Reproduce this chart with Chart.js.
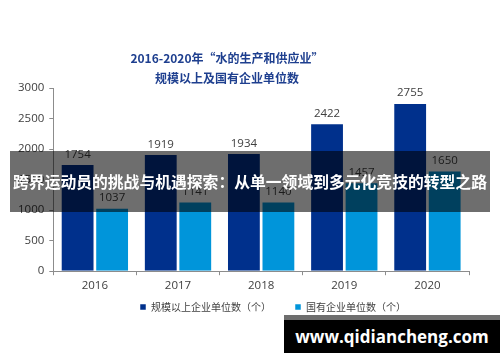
<!DOCTYPE html>
<html lang="zh">
<head>
    <meta charset="UTF-8">
    <title>2016-2020年 水的生产和供应业 企业单位数</title>
    <script src="https://cdn.jsdelivr.net/npm/chart.js"></script>
    <style>
        * { margin: 0; padding: 0; box-sizing: border-box; }
        body { width: 500px; height: 362px; background: #fff; overflow: hidden; font-family: 'Noto Sans CJK SC', 'Noto Sans', sans-serif; }
        .wrap { position: relative; width: 500px; height: 362px; }
        .title {
            position: absolute; left: 77px; width: 300px; top: 48px;
            text-align: center; color: #1e3f8f; font-weight: bold; font-size: 12px; line-height: 20px;
        }
        /* banner across the chart */
        .banner {
            position: absolute; left: 10px; top: 151px; width: 480px; height: 61px;
            background: rgba(0, 0, 0, 0.57); color: #fff; font-weight: bold; font-size: 15.8px;
            display: flex; align-items: center; justify-content: center; white-space: nowrap;
        }
        .mark {
            position: absolute; left: 284px; top: 315px; width: 216px; height: 38px;
            background: #000; border-top: 5px solid #6e6e6e; color: #fff; font-weight: bold;
            font-size: 17px; font-family: 'Open Sans', 'DejaVu Sans', sans-serif;
            display: flex; align-items: center; justify-content: center;
        }
    </style>
</head>
<body>
<div class="wrap">
    <canvas id="barChart" width="500" height="362"></canvas>
    <div class="title">2016-2020年“水的生产和供应业”<br>规模以上及国有企业单位数</div>
    <div class="banner">跨界运动员的挑战与机遇探索：从单一领域到多元化竞技的转型之路</div>
    <div class="mark">www.qidiancheng.com</div>
</div>

<script>
    // data
    const years = ['2016', '2017', '2018', '2019', '2020'];
    const scaleUnits = [1754, 1919, 1934, 2422, 2755];   // 规模以上企业单位数
    const stateUnits = [1037, 1141, 1140, 1457, 1650];   // 国有企业单位数
    const yTicks = [0, 500, 1000, 1500, 2000, 2500, 3000];

    const tickFont = { size: 11.5, family: '"Open Sans", "Noto Sans", sans-serif' };

    // values over the bars
    const valueLabels = {
        id: 'valueLabels',
        afterDatasetsDraw(chart) {
            const ctx = chart.ctx;
            ctx.save();
            ctx.font = '11.5px "Open Sans", "Noto Sans", sans-serif';
            ctx.fillStyle = '#404040';
            ctx.textAlign = 'center';
            ctx.textBaseline = 'bottom';
            chart.data.datasets.forEach((ds, i) => {
                chart.getDatasetMeta(i).data.forEach((bar, j) => {
                    ctx.fillText(ds.data[j], bar.x, bar.y - 4);
                });
            });
            ctx.restore();
        }
    };

    // nudge the legend: closer to the axis and a bit to the right
    const moveLegend = {
        id: 'moveLegend',
        afterLayout(chart) {
            const l = chart.legend;
            l.top -= 19; l.bottom -= 19;
            l.left += 32; l.right += 32;
        }
    };

    const ctx = document.getElementById('barChart').getContext('2d');
    new Chart(ctx, {
        type: 'bar',
        data: {
            labels: years,
            datasets: [{
                label: '规模以上企业单位数（个）',
                data: scaleUnits,
                backgroundColor: '#00308c',
                borderColor: 'rgba(255,255,255,0.5)',
                borderWidth: 1
            }, {
                label: '国有企业单位数（个）',
                data: stateUnits,
                backgroundColor: '#0095da',
                borderColor: 'rgba(255,255,255,0.5)',
                borderWidth: 1
            }]
        },
        options: {
            responsive: false,
            animation: false,
            layout: { padding: { left: 13, right: 31, top: 88, bottom: 21 } },
            datasets: { bar: { categoryPercentage: 0.83, barPercentage: 0.98 } },
            scales: {
                x: {
                    offset: true,
                    grid: { offset: true, drawOnChartArea: false, tickLength: 4, color: '#8c8c8c' },
                    border: { color: '#8c8c8c' },
                    ticks: { color: '#404040', font: tickFont, padding: 4 }
                },
                y: {
                    min: 0,
                    max: 3000,
                    afterBuildTicks(axis) { axis.ticks = yTicks.map(v => ({ value: v })); },
                    grid: { drawOnChartArea: false, tickLength: 4, color: '#8c8c8c' },
                    border: { color: '#8c8c8c' },
                    ticks: { color: '#404040', font: tickFont, padding: 5, callback: v => String(v) }
                }
            },
            plugins: {
                legend: {
                    position: 'bottom',
                    labels: {
                        boxWidth: 6, boxHeight: 6, padding: 24,
                        color: '#404040',
                        font: { size: 10, family: '"Noto Sans CJK SC", sans-serif' }
                    }
                },
                tooltip: { enabled: false }
            }
        },
        plugins: [valueLabels, moveLegend]
    });
</script>
</body>
</html>
